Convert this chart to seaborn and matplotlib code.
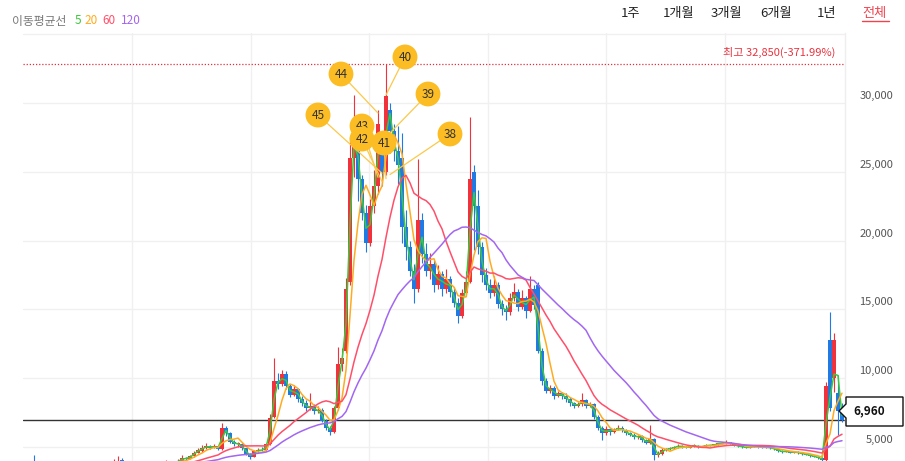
import numpy as np
import pandas as pd
import seaborn as sns
import matplotlib.pyplot as plt
from matplotlib.patches import Polygon
from matplotlib.lines import Line2D

# daily candles squeezed to ~4 trading days per bar
opens = [
    3780, 3900, 3850, 3760, 3690, 3720, 3680, 3650, 3700, 3660,
    3620, 3640, 3600, 3580, 3620, 3650, 3600, 3580, 3560, 3600,
    3650, 3720, 3850, 4050, 3880, 3780, 3720, 3700, 3680, 3660,
    3700, 3720, 3750, 3700, 3780, 3880, 3820, 3900, 4000, 4200,
    4150, 4350, 4600, 4700, 4900, 5100, 4950, 5050, 4850, 6400,
    6000, 5400, 5200, 5250, 4900, 4500, 4300, 4700, 4800, 4750,
    5200, 7200, 9800, 9600, 10300, 9400, 8800, 9200, 8500, 8200,
    7800, 8000, 7600, 7700, 6900, 6400, 6100, 7800, 11000, 12000,
    17000, 26000, 27100, 24500, 22000, 19800, 22500, 24000, 27000, 25000,
    29500, 28000, 26500, 26000, 21000, 19500, 17800, 16500, 21500, 19000,
    17800, 18300, 16800, 17600, 16500, 17200, 16300, 15500, 14500, 16200,
    17000, 25000, 22500, 19500, 17500, 16800, 16200, 16800, 15400, 15000,
    14800, 15800, 16300, 15200, 15800, 14900, 16500, 16800, 12000, 9800,
    9100, 9300, 8700, 8900, 8700, 8500, 8200, 8000, 8100, 8400,
    8000, 8100, 7200, 6400, 6000, 6300, 6100, 6300, 6400, 6200,
    6000, 5900, 5700, 5800, 5500, 5300, 5600, 4400, 4500, 4800,
    4850, 4900, 5000, 5100, 5000, 4950, 5050, 5100, 5000, 5050,
    5150, 5100, 5200, 5250, 5300, 5350, 5250, 5100, 5050, 5000,
    4950, 5000, 5050, 5000, 4950, 5000, 4900, 4850, 4700, 4650,
    4700, 4600, 4650, 4550, 4500, 4450, 4350, 4300, 4200, 4050,
    12800, 10000, 8900, 7700,
]
highs = [
    3850, 4420, 3880, 3790, 3760, 3740, 3700, 3740, 3720, 3680,
    3670, 3650, 3620, 3650, 3690, 3660, 3620, 3600, 3630, 3680,
    3760, 4150, 4350, 4200, 3900, 3800, 3740, 3720, 3700, 3730,
    3760, 3790, 3770, 3820, 4080, 3900, 3960, 4100, 4400, 4300,
    4450, 4700, 4950, 5150, 5300, 5150, 5250, 5100, 6750, 6500,
    6100, 5500, 5350, 5300, 4950, 4600, 4750, 4900, 5000, 5300,
    7400, 11500, 10400, 10600, 10500, 9600, 9500, 9300, 8700, 8400,
    8900, 8100, 8000, 7800, 7000, 6500, 8000, 12300, 12200, 17300,
    27500, 30600, 27500, 24800, 22600, 23000, 25100, 29500, 27300, 32850,
    30000, 28500, 28300, 27800, 22200, 20000, 18300, 25900, 22000, 19800,
    19100, 18600, 18200, 17800, 17900, 17400, 16600, 15800, 16500, 17800,
    29000, 25500, 23700, 19900, 18000, 17200, 17400, 17000, 15700, 15300,
    16200, 16900, 16500, 16400, 16000, 17400, 16800, 17000, 12200, 10000,
    9500, 9400, 9100, 9000, 8900, 8600, 8300, 8300, 8900, 8500,
    8300, 8200, 7300, 6500, 6500, 6400, 6400, 6600, 6500, 6300,
    6100, 6000, 5900, 5850, 5600, 6600, 5650, 4700, 4900, 4950,
    5000, 5100, 5200, 5150, 5050, 5100, 5200, 5150, 5100, 5200,
    5180, 5250, 5300, 5400, 5500, 5400, 5280, 5150, 5100, 5050,
    5080, 5100, 5080, 5020, 5050, 5020, 4950, 4880, 4750, 4750,
    4720, 4700, 4680, 4580, 4550, 4480, 4400, 4320, 4220, 9700,
    14800, 13300, 10200, 8200,
]
lows = [
    3700, 3800, 3720, 3660, 3650, 3640, 3600, 3630, 3630, 3590,
    3600, 3570, 3540, 3560, 3600, 3570, 3550, 3520, 3550, 3590,
    3640, 3700, 3820, 3850, 3750, 3690, 3660, 3640, 3620, 3640,
    3680, 3700, 3680, 3690, 3760, 3790, 3800, 3880, 3980, 4080,
    4120, 4300, 4550, 4650, 4850, 4850, 4900, 4800, 4800, 5800,
    5300, 5100, 5000, 4800, 4400, 4100, 4250, 4600, 4700, 4700,
    5150, 7100, 9200, 9400, 9200, 8600, 8700, 8300, 8000, 7600,
    7700, 7400, 7500, 6800, 6200, 5900, 6050, 7700, 10500, 11800,
    16800, 24600, 22900, 21500, 19200, 19600, 22000, 23400, 24000, 24800,
    26400, 25800, 24100, 19800, 18600, 17400, 15500, 16300, 18400, 17400,
    17200, 16300, 16500, 16000, 16200, 15900, 15200, 14000, 14400, 16000,
    16900, 19300, 19000, 17000, 16400, 15800, 16000, 15100, 14600, 14200,
    14600, 15600, 14900, 15000, 14400, 14800, 15000, 11800, 9500, 8900,
    8900, 8500, 8600, 8500, 8300, 8000, 7800, 7900, 8000, 7800,
    7900, 7000, 6200, 5500, 5900, 5900, 6000, 6200, 6100, 5900,
    5800, 5600, 5600, 5400, 5200, 5200, 4050, 4300, 4450, 4700,
    4800, 4850, 4950, 4950, 4900, 4920, 5000, 4950, 4970, 5000,
    5050, 5080, 5150, 5200, 5250, 5200, 5050, 5000, 4950, 4900,
    4930, 4980, 4950, 4900, 4930, 4870, 4800, 4650, 4600, 4630,
    4560, 4580, 4500, 4450, 4400, 4300, 4250, 4150, 3990, 3990,
    7600, 9000, 5900, 6800,
]
closes = [
    3800, 3850, 3760, 3700, 3720, 3680, 3650, 3700, 3660, 3620,
    3640, 3600, 3580, 3620, 3650, 3600, 3580, 3560, 3600, 3650,
    3720, 3850, 3950, 3880, 3780, 3720, 3700, 3680, 3660, 3700,
    3720, 3750, 3700, 3780, 3880, 3820, 3900, 4000, 4200, 4150,
    4350, 4600, 4800, 4900, 5100, 4950, 5050, 4850, 6400, 6000,
    5400, 5200, 5250, 4900, 4500, 4300, 4700, 4800, 4750, 5200,
    7100, 9800, 9600, 10300, 9400, 8800, 9200, 8500, 8200, 7800,
    8000, 7600, 7700, 6900, 6400, 6100, 7800, 11000, 11500, 16500,
    26000, 27800, 24500, 22000, 19800, 22500, 24000, 28500, 25000, 30500,
    28000, 26500, 25500, 21000, 19500, 17800, 16500, 21500, 19000, 17800,
    18300, 16800, 17600, 16500, 17200, 16300, 15500, 14500, 16200, 17000,
    24500, 22500, 19500, 17500, 16800, 16200, 16800, 15400, 15000, 14800,
    15800, 16300, 15200, 15800, 14900, 16500, 15300, 12000, 9800, 9100,
    9300, 8700, 8900, 8700, 8500, 8200, 8000, 8100, 8400, 8000,
    8100, 7200, 6400, 6000, 6300, 6100, 6300, 6400, 6200, 6000,
    5900, 5700, 5800, 5500, 5300, 5600, 4400, 4500, 4800, 4850,
    4900, 5000, 5100, 5000, 4950, 5050, 5100, 5000, 5050, 5150,
    5100, 5200, 5250, 5300, 5350, 5250, 5100, 5050, 5000, 4950,
    5000, 5050, 5000, 4950, 5000, 4900, 4850, 4700, 4650, 4700,
    4600, 4650, 4550, 4500, 4450, 4350, 4300, 4200, 4050, 9400,
    7800, 12800, 7600, 6960,
]

ma_labels = ["5", "20", "60", "120"]
ma_windows = [2, 5, 15, 30]  # in bars (1 bar ~ 4 days)
ma_colors = ["#3cc83c", "#ffab1f", "#ff4f6a", "#a266f2"]

top_price = 32850
top_change = "-371.99%"
last_price = 6960

marker_ids = [40, 44, 39, 45, 43, 42, 41, 38]
marker_idx = [89, 87, 90, 88, 87, 88, 89, 90]
marker_price = [30580, 29270, 27820, 24900, 24600, 24300, 24500, 24800]
bubble_px = [(405, 57), (341, 74), (428, 94), (318, 115),
             (362, 126), (362, 139), (384, 143), (450, 134)]

range_buttons = ["1주", "1개월", "3개월", "6개월", "1년", "전체"]
button_x = [621, 663, 711, 760, 817, 862]
y_ticks = [5000, 10000, 15000, 20000, 25000, 30000]

RED = "#f0323c"
BLUE = "#2179e3"
W, H = 905, 461

sns.set_theme(style="white")
plt.rcParams["font.family"] = ["Noto Sans CJK KR", "DejaVu Sans"]

df = pd.DataFrame({"open": opens, "high": highs, "low": lows, "close": closes})
df["i"] = np.arange(len(df))

fig = plt.figure(figsize=(W / 100, H / 100), dpi=100)
ax = fig.add_axes([23 / W, 0, 822 / W, 428 / H])


def fpx(x, y):
    return x / W, 1 - y / H


# grid
for v in [5000, 10000, 15000, 20000, 25000, 30000, 35000]:
    ax.axhline(v, color="#f0f0f0", lw=1, zorder=0)
for gx in [25.5, 55.25, 84.75, 114.5, 144, 173.75]:
    ax.axvline(gx, color="#f0f0f0", lw=1, zorder=0)

ax.axhline(last_price, color="#333333", lw=1, zorder=2)
ax.axhline(top_price, color="#e0303a", lw=0.9, ls=(0, (1, 1.5)), zorder=2)

# candles
up = df["close"] >= df["open"]
cols = np.where(up, RED, BLUE)
ax.vlines(df["i"], df["low"], df["high"], colors=cols, lw=0.8, zorder=3)
body = (df["close"] - df["open"]).abs().clip(lower=60)
ax.bar(df["i"], body, bottom=df[["open", "close"]].min(axis=1),
       width=0.78, color=cols, linewidth=0, zorder=3)

# moving averages
for lab, w, c in zip(ma_labels, ma_windows, ma_colors):
    df["ma" + lab] = df["close"].rolling(w).mean()
    sns.lineplot(data=df, x="i", y="ma" + lab, color=c, lw=1.1,
                 ax=ax, zorder=4, legend=False)

ax.set_xlim(-1.75, 203.75)
ax.set_ylim(3983, 35087)
ax.set_xticks([])
ax.set_yticks([])
ax.set_xlabel("")
ax.set_ylabel("")
for s in ["top", "left", "bottom"]:
    ax.spines[s].set_visible(False)
ax.spines["right"].set_color("#eeeeee")
ax.spines["right"].set_linewidth(1)

# right price labels
for v in y_ticks:
    ax.annotate(f"{v:,}", xy=(1, v), xycoords=("axes fraction", "data"),
                xytext=(48, 7), textcoords="offset pixels",
                ha="right", va="center", fontsize=8, color="#555555",
                annotation_clip=False)

ax.annotate(f"최고 {top_price:,}({top_change})", xy=(1, top_price),
            xycoords=("axes fraction", "data"), xytext=(-10, 11),
            textcoords="offset pixels", ha="right", va="center",
            fontsize=8, color="#e8343f", annotation_clip=False)

# numbered markers
for n, xi, pr, (bx, by) in zip(marker_ids, marker_idx, marker_price, bubble_px):
    ax.annotate(str(n), xy=(xi, pr), xycoords="data",
                xytext=(bx, H - by), textcoords="figure pixels",
                ha="center", va="center", fontsize=8.5, color="#333333",
                bbox=dict(boxstyle="circle,pad=0.5", fc="#fbbd23", ec="none"),
                arrowprops=dict(arrowstyle="-", color="#fcc84a", lw=0.9,
                                shrinkA=0, shrinkB=0),
                zorder=6)

# last price tag
tag = [(846, 397), (903, 397), (903, 426), (846, 426), (846, 418),
       (839, 411), (846, 404)]
fig.patches.append(Polygon([fpx(x, y) for x, y in tag], closed=True,
                           transform=fig.transFigure, fc="white",
                           ec="#111111", lw=1, zorder=7))
fig.text(*fpx(853, 411), f"{last_price:,}", ha="left", va="center",
         fontsize=8.5, fontweight="bold", color="#111111", zorder=8)

# legend header
fig.text(*fpx(12, 21), "이동평균선", ha="left", va="center",
         fontsize=8.5, color="#777777")
for lab, c, x in zip(ma_labels, ma_colors, [75, 84, 102, 121]):
    fig.text(*fpx(x, 21), lab, ha="left", va="center", fontsize=8.5, color=c)

# range buttons
for lab, x in zip(range_buttons, button_x):
    c = "#f0434e" if lab == "전체" else "#222222"
    fig.text(*fpx(x, 13), lab, ha="left", va="center", fontsize=9.5, color=c)
fig.lines.append(Line2D([862 / W, 889 / W], [1 - 21 / H, 1 - 21 / H],
                        transform=fig.transFigure, color="#f0434e", lw=1))

fig.savefig("out.png", dpi=100)
